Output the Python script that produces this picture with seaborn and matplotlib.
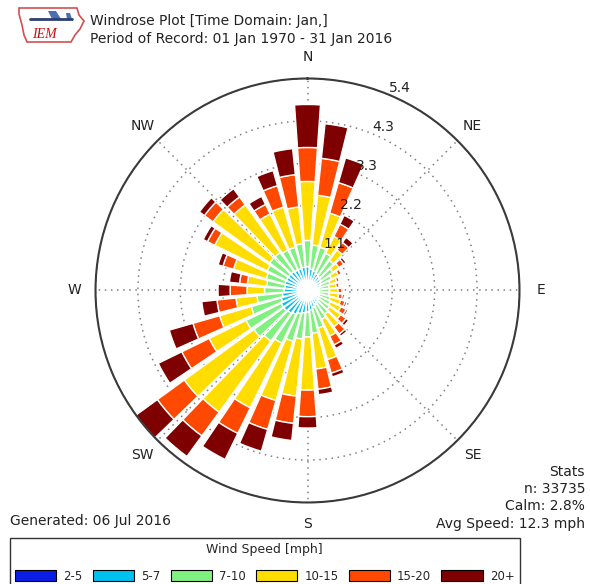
import numpy as np
import matplotlib
matplotlib.use("Agg")
import matplotlib.pyplot as plt
from matplotlib.patches import Patch, Polygon
import seaborn as sns

# ---------------------------------------------------------------------------
# Data: frequency (%) per 10-degree sector (0 = N, clockwise) for each speed bin
# ---------------------------------------------------------------------------
directions = list(range(0, 360, 10))
speed_labels = ["2-5", "5-7", "7-10", "10-15", "15-20", "20+"]

freq_2_5 = [0.20, 0.18, 0.17, 0.16, 0.15, 0.14, 0.12, 0.12, 0.10, 0.10, 0.10, 0.10,
            0.11, 0.12, 0.12, 0.13, 0.14, 0.15, 0.17, 0.18, 0.19, 0.20, 0.20, 0.20,
            0.20, 0.20, 0.19, 0.18, 0.18, 0.18, 0.18, 0.18, 0.18, 0.18, 0.18, 0.19]
freq_5_7 = [0.41, 0.37, 0.35, 0.32, 0.30, 0.28, 0.26, 0.23, 0.20, 0.20, 0.20, 0.22,
            0.22, 0.23, 0.26, 0.27, 0.31, 0.35, 0.38, 0.40, 0.43, 0.48, 0.52, 0.55,
            0.55, 0.50, 0.46, 0.42, 0.40, 0.42, 0.42, 0.42, 0.42, 0.40, 0.40, 0.41]
freq_7_10 = [0.67, 0.62, 0.63, 0.58, 0.50, 0.38, 0.30, 0.25, 0.25, 0.26, 0.26, 0.28,
             0.32, 0.35, 0.37, 0.42, 0.55, 0.60, 0.64, 0.67, 0.73, 0.82, 0.88, 0.95,
             1.00, 0.80, 0.65, 0.50, 0.47, 0.50, 0.55, 0.60, 0.60, 0.57, 0.57, 0.60]
freq_10_15 = [1.51, 1.28, 0.91, 0.48, 0.33, 0.20, 0.20, 0.18, 0.19, 0.22, 0.24, 0.28,
              0.30, 0.35, 0.40, 0.48, 0.84, 0.92, 1.36, 1.47, 1.58, 1.84, 2.25, 2.20,
              1.05, 0.84, 0.54, 0.45, 0.50, 0.87, 1.49, 1.79, 1.51, 1.03, 1.07, 0.95]
freq_15_20 = [0.87, 0.95, 0.81, 0.35, 0.24, 0.15, 0.09, 0.07, 0.08, 0.10, 0.10, 0.12,
              0.15, 0.17, 0.23, 0.25, 0.36, 0.52, 0.68, 0.70, 0.77, 0.73, 0.75, 0.85,
              0.78, 0.71, 0.49, 0.43, 0.20, 0.28, 0.21, 0.27, 0.25, 0.27, 0.57, 0.83]
freq_20p = [1.10, 0.89, 0.66, 0.25, 0.16, 0.07, 0.03, 0.02, 0.03, 0.04, 0.05, 0.05,
            0.05, 0.08, 0.07, 0.10, 0.10, 0.14, 0.29, 0.44, 0.58, 0.74, 0.65, 0.675,
            0.67, 0.63, 0.39, 0.31, 0.26, 0.13, 0.12, 0.16, 0.26, 0.23, 0.40, 0.67]

compass_angles = [0, 45, 90, 135, 180, 225, 270, 315]
compass_labels = ["N", "NE", "E", "SE", "S", "SW", "W", "NW"]

bin_colors = ["#0a1ee6", "#00c0f0", "#80f080", "#ffdd00", "#ff4800", "#7f0000"]

# ---------------------------------------------------------------------------
sns.set_style("white")
plt.rcParams["font.family"] = ["DejaVu Sans"]
palette = sns.color_palette(bin_colors)

W, H = 590, 584
fig = plt.figure(figsize=(W / 100, H / 100), dpi=100)

ax = fig.add_axes([0.1619, 0.1396, 0.7186, 0.7260], polar=True)
ax.set_theta_zero_location("N")
ax.set_theta_direction(-1)

table = np.array([freq_2_5, freq_5_7, freq_7_10, freq_10_15, freq_15_20, freq_20p])
theta = np.radians(directions)
width = np.radians(10) * 0.8
bottom = np.zeros(len(directions))
for vals, col in zip(table, palette):
    ax.bar(theta, vals, width=width, bottom=bottom, color=col,
           edgecolor="white", linewidth=1.0, align="center", zorder=2)
    bottom = bottom + vals

rmax = bottom.max()
ax.set_ylim(0, rmax)
radii = rmax * np.array([0.2, 0.4, 0.6, 0.8, 1.0])
ax.set_rgrids(radii, labels=[""] * len(radii))
ax.set_thetagrids(compass_angles, labels=[""] * len(compass_angles))
ax.set_axisbelow(True)
ax.grid(True, color="#808080", linestyle=(0, (1, 3)), linewidth=1.1)
ax.spines["polar"].set_color("#3a3a3a")
ax.spines["polar"].set_linewidth(1.5)

for r in radii:
    ax.text(np.radians(22.5), r, "%.1f" % r, ha="left", va="bottom",
            fontsize=10, color="#222222", zorder=5)
for a, lab in zip(compass_angles, compass_labels):
    ax.text(np.radians(a), rmax * 1.1, lab, ha="center", va="center",
            fontsize=10, color="#222222")

# header text
fig.text(90 / W, 1 - 25 / H, "Windrose Plot [Time Domain: Jan,]",
         fontsize=10, va="baseline", ha="left", color="#222222")
fig.text(90 / W, 1 - 43.5 / H, "Period of Record: 01 Jan 1970 - 31 Jan 2016",
         fontsize=10, va="baseline", ha="left", color="#222222")

# IEM logo
lax = fig.add_axes([0, 1 - 50 / H, 90 / W, 50 / H])
lax.set_xlim(0, 90)
lax.set_ylim(50, 0)
lax.axis("off")
iowa = [(19, 8), (77, 8), (79, 15), (84, 21), (80, 29), (75, 35), (71, 42),
        (27, 42), (24, 35), (22, 25), (19, 14)]
lax.add_patch(Polygon(iowa, closed=True, fill=False, edgecolor="#d05050", linewidth=1.2))
lax.plot([30, 72], [19, 19], color="#2b3f70", linewidth=2)
lax.add_patch(Polygon([(48, 11), (56, 11), (61, 19), (52, 19)], closed=True,
                      facecolor="#4a6fb5", edgecolor="none"))
lax.add_patch(Polygon([(66, 13), (70, 13), (72, 19), (67, 19)], closed=True,
                      facecolor="#4a6fb5", edgecolor="none"))
lax.text(44, 34, "IEM", ha="center", va="center", fontsize=10, color="#c81010",
         family="Liberation Serif", style="italic")

# footer / stats
fig.text(10 / W, 1 - 525 / H, "Generated: 06 Jul 2016", fontsize=10,
         ha="left", va="baseline", color="#222222")
stats_lines = ["Stats", "n: 33735", "Calm: 2.8%", "Avg Speed: 12.3 mph"]
for i, line in enumerate(stats_lines):
    fig.text(585 / W, 1 - (476 + 17.2 * i) / H, line, fontsize=10,
             ha="right", va="baseline", color="#222222")

handles = [Patch(facecolor=c, edgecolor="black", linewidth=0.8) for c in palette]
leg = fig.legend(handles, speed_labels, loc="upper left",
                 bbox_to_anchor=(10 / W, 1 - 538 / H), ncol=6,
                 title="Wind Speed [mph]", fontsize=8.5, title_fontsize=9,
                 frameon=True, fancybox=False, edgecolor="black",
                 handlelength=3.5, handleheight=1.02, handletextpad=0.6,
                 columnspacing=0.86, labelspacing=1.15,
                 borderaxespad=0, borderpad=0.43)
leg.get_frame().set_linewidth(1.0)

fig.savefig("out.png", dpi=100)
